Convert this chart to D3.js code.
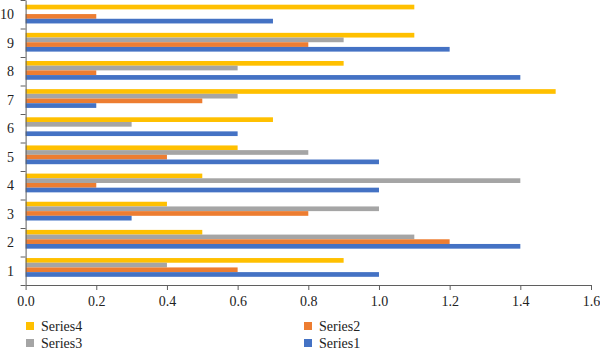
<!DOCTYPE html>
<html><head><meta charset="utf-8">
<script src="https://cdn.jsdelivr.net/npm/d3@7"></script>
<style>body{margin:0;background:#fff}svg{display:block}</style>
</head><body>
<svg id="c" width="600" height="353"></svg>
<script>
const categories = ["1","2","3","4","5","6","7","8","9","10"];
const series1 = [1.0, 1.4, 0.3, 1.0, 1.0, 0.6, 0.2, 1.4, 1.2, 0.7];
const series2 = [0.6, 1.2, 0.8, 0.2, 0.4, 0.0, 0.5, 0.2, 0.8, 0.2];
const series3 = [0.4, 1.1, 1.0, 1.4, 0.8, 0.3, 0.6, 0.6, 0.9, 0.0];
const series4 = [0.9, 0.5, 0.4, 0.5, 0.6, 0.7, 1.5, 0.9, 1.1, 1.1];
const seriesNames = ["Series4","Series3","Series2","Series1"];
const seriesColors = {Series1:"#4472C4", Series2:"#ED7D31", Series3:"#A5A5A5", Series4:"#FFC000"};
const xTicks = [0,0.2,0.4,0.6,0.8,1.0,1.2,1.4,1.6];

const seriesData = {Series1:series1, Series2:series2, Series3:series3, Series4:series4};
const svg = d3.select("#c");
const font = "'Liberation Serif','Times New Roman',serif";
const axisColor = "#5f5f5f";

const x = d3.scaleLinear().domain([0,1.6]).range([25.6,591]);
const yTick = d3.scaleLinear().domain([0,10]).range([285,0]);
const y0 = d3.scaleBand().domain(categories).range([281.5,0]).padding(0);
const y1 = d3.scaleBand().domain(seriesNames).range([0,y0.bandwidth()]).paddingInner(0).paddingOuter(1);

// bars
const g = svg.append("g");
categories.forEach((c,i)=>{
  seriesNames.forEach(s=>{
    const v = seriesData[s][i];
    if (v<=0) return;
    g.append("rect")
      .attr("x", x(0))
      .attr("y", y0(c)+y1(s))
      .attr("width", x(v)-x(0))
      .attr("height", y1.bandwidth())
      .attr("fill", seriesColors[s]);
  });
});

// y axis
const yAxis = svg.append("g").attr("transform",`translate(${x(0)},0)`)
  .call(d3.axisLeft(yTick).tickValues(d3.range(0,11)).tickFormat("").tickSizeOuter(0).tickSizeInner(5));
yAxis.select(".domain").attr("stroke",axisColor);
yAxis.selectAll(".tick line").attr("stroke",axisColor);
svg.append("g").selectAll("text").data(categories).join("text")
  .attr("x",14).attr("y",(d,i)=>yTick(i+0.5)+5)
  .attr("text-anchor","end")
  .attr("font-family",font).attr("font-size",14).attr("fill","#222")
  .text(d=>d);

// x axis
const xAxis = svg.append("g").attr("transform",`translate(0,285)`)
  .call(d3.axisBottom(x).tickValues(xTicks).tickFormat(d3.format(".1f")).tickSizeOuter(0).tickSizeInner(5).tickPadding(6));
xAxis.select(".domain").attr("stroke",axisColor);
xAxis.selectAll(".tick line").attr("stroke",axisColor);
xAxis.selectAll("text").attr("font-family",font).attr("font-size",14).attr("fill","#222");

// legend
const legendItems = [
  {name:"Series4", x:26, y:322},
  {name:"Series3", x:26, y:339},
  {name:"Series2", x:304, y:322},
  {name:"Series1", x:304, y:339}
];
const lg = svg.append("g").selectAll("g").data(legendItems).join("g")
  .attr("transform",d=>`translate(${d.x},${d.y})`);
lg.append("rect").attr("width",8).attr("height",8).attr("fill",d=>seriesColors[d.name]);
lg.append("text").attr("x",15).attr("y",9)
  .attr("font-family",font).attr("font-size",14).attr("fill","#222")
  .text(d=>d.name);
</script>
</body></html>
